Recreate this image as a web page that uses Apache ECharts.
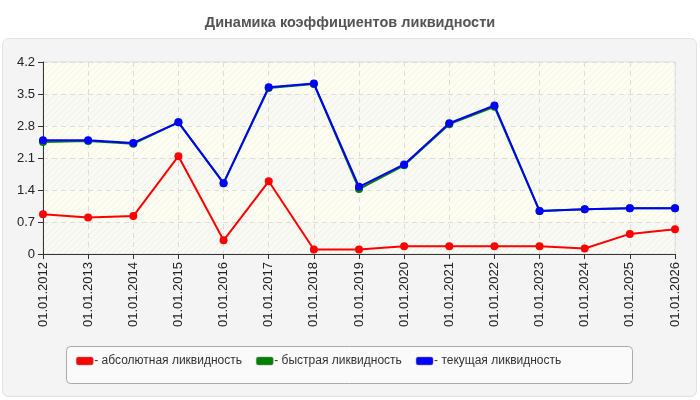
<!DOCTYPE html>
<html>
<head>
<meta charset="utf-8">
<script src="https://cdn.jsdelivr.net/npm/echarts@6/dist/echarts.min.js"></script>
<style>
  html, body { margin: 0; padding: 0; background: #fff; }
</style>
</head>
<body>
<div id="main" style="width: 700px;height:400px;"></div>

<script type="text/javascript">
    var dates = ['01.01.2012','01.01.2013','01.01.2014','01.01.2015','01.01.2016','01.01.2017','01.01.2018',
                 '01.01.2019','01.01.2020','01.01.2021','01.01.2022','01.01.2023','01.01.2024','01.01.2025','01.01.2026'];
    var absolute = [0.87, 0.80, 0.83, 2.14, 0.30, 1.59, 0.10, 0.10, 0.17, 0.17, 0.17, 0.17, 0.12, 0.44, 0.54];
    var quick    = [2.45, 2.47, 2.41, 2.88, 1.55, 3.63, 3.72, 1.42, 1.94, 2.84, 3.22, 0.94, 0.98, 1.00, 1.00];
    var current  = [2.49, 2.49, 2.43, 2.88, 1.55, 3.65, 3.73, 1.47, 1.96, 2.86, 3.25, 0.94, 0.98, 1.00, 1.00];
    var names    = ['абсолютная ликвидность', 'быстрая ликвидность', 'текущая ликвидность'];
    var colors   = ['#ff0000', '#008000', '#0000ff'];

    // diagonal hatch for plot background
    var hatch = document.createElement('canvas');
    hatch.width = 6; hatch.height = 6;
    var hc = hatch.getContext('2d');
    hc.fillStyle = '#fdfdf7';
    hc.fillRect(0, 0, 6, 6);
    hc.strokeStyle = '#f0f0ea';
    hc.lineWidth = 1;
    hc.beginPath();
    hc.moveTo(0, 6); hc.lineTo(6, 0);
    hc.moveTo(-3, 3); hc.lineTo(3, -3);
    hc.moveTo(3, 9); hc.lineTo(9, 3);
    hc.stroke();

    var myChart = echarts.init(document.getElementById('main'));
    var data = [absolute, quick, current];
    var serieData = [];
    for (var v = 0; v < names.length; v++) {
        serieData.push({
            name: names[v],
            type: 'line',
            symbol: 'circle',
            symbolSize: 8,
            animation: false,
            itemStyle: { color: colors[v] },
            lineStyle: { color: colors[v], width: 2 },
            data: data[v],
            z: 2 + v
        });
    }

    var option = {
        backgroundColor: '#fff',
        color: colors,
        textStyle: { fontFamily: 'Liberation Sans, Arial, sans-serif' },
        title: {
            text: 'Динамика коэффициентов ликвидности',
            left: 'center', top: 10,
            textStyle: { color: '#555', fontSize: 14.5, fontWeight: 'bold', fontFamily: 'Liberation Sans, Arial, sans-serif' }
        },
        graphic: [
            {
                type: 'rect', z: -10, silent: true,
                shape: { x: 2.5, y: 38.5, width: 694, height: 358, r: 6 },
                style: { fill: '#f4f4f4', stroke: '#e2e2e2', lineWidth: 1 }
            },
            {
                type: 'rect', z: -5, silent: true,
                shape: { x: 66.5, y: 346.5, width: 566, height: 37, r: 4 },
                style: { fill: '#fafafa', stroke: '#aaaaaa', lineWidth: 1 }
            }
        ],
        legend: {
            left: 76, top: 355,
            padding: 0,
            data: names,
            icon: 'roundRect',
            itemWidth: 17, itemHeight: 8,
            itemGap: 14,
            formatter: '- {name}',
            textStyle: { color: '#333', fontSize: 12, padding: [0, 0, 0, -4] },
            itemStyle: { borderColor: '#888', borderWidth: 0.5 }
        },
        grid: {
            left: 43, right: 25, top: 62, bottom: 146,
            show: true,
            backgroundColor: { image: hatch, repeat: 'repeat' },
            borderColor: '#dddddd', borderWidth: 1
        },
        xAxis: {
            type: 'category',
            boundaryGap: false,
            data: dates,
            axisLine: { show: true, lineStyle: { color: '#333' } },
            axisTick: { show: true, alignWithLabel: true, length: 5, lineStyle: { color: '#333' } },
            axisLabel: { rotate: 90, interval: 0, color: '#222', fontSize: 13, margin: 8 },
            splitLine: { show: true, interval: 0, lineStyle: { color: '#dddddd', type: [5, 4] } }
        },
        yAxis: {
            type: 'value',
            min: 0, max: 4.2, interval: 0.7,
            axisLine: { show: true, lineStyle: { color: '#333' } },
            axisTick: { show: true, length: 5, lineStyle: { color: '#333' } },
            axisLabel: { color: '#222', fontSize: 13, margin: 8 },
            splitLine: { show: true, lineStyle: { color: '#dddddd', type: [5, 4] } },
            splitArea: { show: true, areaStyle: { color: ['rgba(240,240,240,0.2)', 'rgba(255,255,230,0.3)'] } }
        },
        series: serieData
    };
    myChart.setOption(option);
</script>
</body>
</html>
